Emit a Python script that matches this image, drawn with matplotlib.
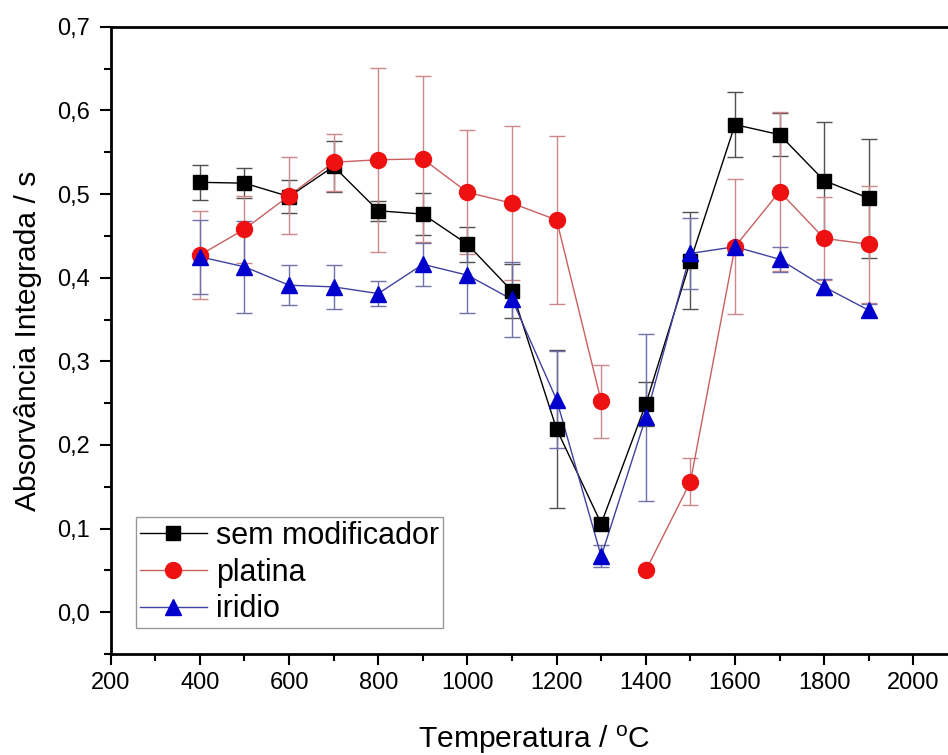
import matplotlib
matplotlib.use("Agg")
import matplotlib.pyplot as plt
from matplotlib.ticker import MultipleLocator, FuncFormatter
from matplotlib.lines import Line2D

plt.rcParams['font.family'] = ['Liberation Sans', 'DejaVu Sans']
plt.rcParams['mathtext.fontset'] = 'custom'
plt.rcParams['mathtext.rm'] = 'Liberation Sans'
plt.rcParams['mathtext.it'] = 'Liberation Sans:italic'

temps = [400, 500, 600, 700, 800, 900, 1000, 1100, 1200, 1300, 1400, 1500, 1600, 1700, 1800, 1900]

sem_mod = [0.514, 0.513, 0.497, 0.533, 0.480, 0.476, 0.440, 0.384, 0.219, 0.106, 0.249, 0.420, 0.583, 0.571, 0.516, 0.495]
sem_mod_err = [0.021, 0.018, 0.020, 0.030, 0.012, 0.025, 0.021, 0.032, 0.094, 0.005, 0.026, 0.058, 0.039, 0.026, 0.070, 0.071]

platina = [0.427, 0.458, 0.498, 0.538, 0.541, 0.542, 0.502, 0.489, 0.469, 0.252, 0.050, 0.156, 0.437, 0.503, 0.447, 0.440]
platina_err = [0.053, 0.040, 0.046, 0.034, 0.110, 0.099, 0.074, 0.092, 0.100, 0.044, 0.0, 0.028, 0.081, 0.095, 0.050, 0.070]

iridio = [0.425, 0.413, 0.391, 0.389, 0.381, 0.416, 0.403, 0.374, 0.254, 0.067, 0.233, 0.429, 0.437, 0.422, 0.389, 0.361]
iridio_err = [0.044, 0.055, 0.024, 0.026, 0.015, 0.026, 0.045, 0.045, 0.058, 0.013, 0.100, 0.042, 0.005, 0.015, 0.010, 0.008]

# the connecting line of each series is broken after these temperatures
line_breaks = {'sem modificador': [], 'platina': [1300], 'iridio': []}

labels = ['sem modificador', 'platina', 'iridio']

fig = plt.figure(figsize=(9.48, 7.55), dpi=100)
ax = fig.add_axes([0.1168, 0.1336, 0.8937, 0.831])

series = [
    (sem_mod, sem_mod_err, 's', 'black', '#000000', '#505050', 10),
    (platina, platina_err, 'o', '#ee1111', '#c86060', '#cc8888', 11.5),
    (iridio, iridio_err, '^', '#0000cc', '#4040a0', '#7070aa', 12),
]
handles = []
for (vals, errs, mk, mc, lc, ec, ms), lab in zip(series, labels):
    ax.errorbar(temps, vals, yerr=errs, fmt='none', ecolor=ec, elinewidth=1.0,
                capsize=6, capthick=1.0, zorder=2)
    start = 0
    cuts = [temps.index(t) + 1 for t in line_breaks[lab]] + [len(temps)]
    for end in cuts:
        ax.plot(temps[start:end], vals[start:end], color=lc, linewidth=1.0, zorder=3)
        start = end
    ax.plot(temps, vals, linestyle='none', marker=mk, markersize=ms,
            markerfacecolor=mc, markeredgecolor=mc, zorder=4)
    handles.append(Line2D([], [], color=lc, linewidth=1.0, marker=mk, markersize=ms,
                          markerfacecolor=mc, markeredgecolor=mc, label=lab))

ax.set_xlim(200, 2100)
ax.set_ylim(-0.05, 0.7)
ax.xaxis.set_major_locator(MultipleLocator(200))
ax.xaxis.set_minor_locator(MultipleLocator(100))
ax.yaxis.set_major_locator(MultipleLocator(0.1))
ax.yaxis.set_minor_locator(MultipleLocator(0.05))

def yfmt(v, pos):
    s = f"{abs(v):.1f}" if abs(v) < 1e-9 else f"{v:.1f}"
    return s.replace('.', ',')
ax.yaxis.set_major_formatter(FuncFormatter(yfmt))

ax.tick_params(axis='both', which='major', direction='out', length=8, width=1.5,
               labelsize=17, top=False, right=False)
ax.tick_params(axis='both', which='minor', direction='out', length=5, width=1.5,
               top=False, right=False)
ax.tick_params(axis='y', which='major', pad=7)
ax.tick_params(axis='x', which='major', pad=5)
for sp in ax.spines.values():
    sp.set_linewidth(2)

ax.set_xlabel('Temperatura / $^{\\mathrm{o}}$C', fontsize=21.6, labelpad=21)
ax.set_ylabel('Absorvância Integrada / s', fontsize=21.6, labelpad=11)

leg = ax.legend(handles=handles, loc='lower left', bbox_to_anchor=(0.0299, 0.0416),
                borderaxespad=0, fontsize=22, frameon=True, fancybox=False,
                edgecolor='#808080', handlelength=2.2, handletextpad=0.3,
                labelspacing=0.22, borderpad=0.12)
leg.get_frame().set_linewidth(1.0)

fig.savefig('out.png', dpi=100)
